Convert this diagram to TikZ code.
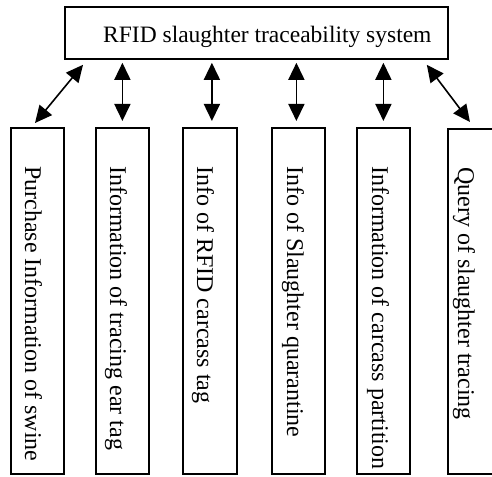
\documentclass[tikz,border=0pt]{standalone}
\usepackage{fontspec}
\setmainfont{Liberation Serif}
\usetikzlibrary{arrows.meta,calc}
\tikzset{
  box/.style={draw, line width=1.8pt, anchor=north west, inner sep=0pt, minimum height=346pt},
  vtext/.style={rotate=-90, anchor=base west, inner sep=0pt, font=\fontsize{24}{28}\selectfont},
  arr/.style={line width=1.6pt, {Triangle[length=17pt,width=16pt]}-{Triangle[length=17pt,width=16pt]}}
}
\begin{document}
\begin{tikzpicture}[x=1pt,y=-1pt]
\useasboundingbox (0,0) rectangle (492,476);
\node[draw, line width=1.8pt, anchor=north west, inner sep=0pt, minimum width=383pt, minimum height=52pt] (top) at (64,6) {};
\node[anchor=base west, inner sep=0pt, font=\fontsize{23.5}{28}\selectfont] (tt) at (103,43) {RFID slaughter traceability system};
\node[box, minimum width=53pt] (b1) at (10,127) {};
\node[box, minimum width=53pt] (b2) at (95,127) {};
\node[box, minimum width=54pt] (b3) at (182,127) {};
\node[box, minimum width=53pt] (b4) at (271,127) {};
\node[box, minimum width=53pt] (b5) at (356,127) {};
\node[box, minimum width=60pt, minimum height=345pt] (b6) at (447,128) {};
\node[vtext] (t1) at (25,166) {Purchase Information of swine};
\node[vtext] (t2) at (110,166) {Information of tracing ear tag};
\node[vtext] (t3) at (197,166) {Info of RFID carcass tag};
\node[vtext] (t4) at (287,166) {Info of Slaughter quarantine};
\node[vtext] (t5) at (372,166) {Information of carcass partition};
\node[vtext] (t6) at (458,167) {Query of slaughter tracing};
\draw[arr] ($(top.south west)+(19,5)$) -- ($(b1.north west)+(25,-4)$);
\draw[arr] ($(top.south -| b2.north)+(0,3)$) -- ($(b2.north)+(0,-6)$);
\draw[arr] ($(top.south -| b3.north)+(2,3)$) -- ($(b3.north)+(2,-6)$);
\draw[arr] ($(top.south -| b4.north)+(-2,3)$) -- ($(b4.north)+(-2,-6)$);
\draw[arr] ($(top.south -| b5.north)+(0,3)$) -- ($(b5.north)+(0,-6)$);
\draw[arr] ($(top.south east)+(-22,5)$) -- ($(b6.north west)+(23,-6)$);
\end{tikzpicture}
\end{document}
